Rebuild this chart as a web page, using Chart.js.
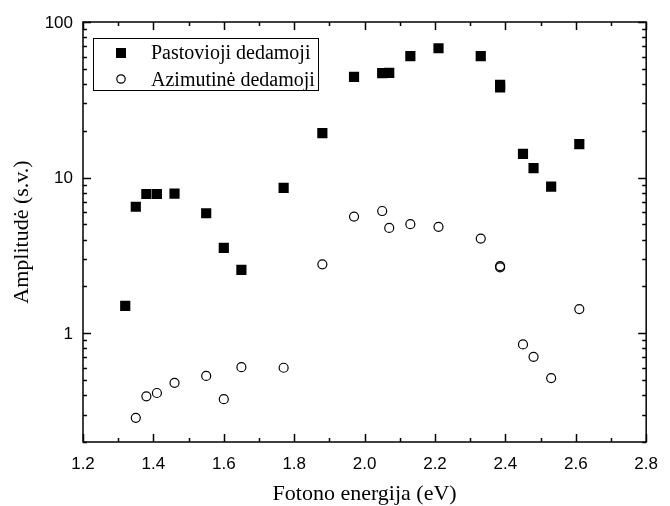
<!DOCTYPE html>
<html>
<head>
<meta charset="utf-8">
<script src="https://cdn.jsdelivr.net/npm/chart.js@4"></script>
<style>
html,body{margin:0;padding:0;background:#fff;}
#wrap{width:670px;height:506px;position:relative;}
</style>
</head>
<body>
<div id="wrap"><canvas id="c" width="670" height="506"></canvas></div>
<script>
// Data
const constEnergy = [1.32, 1.35, 1.38, 1.41, 1.46, 1.55, 1.60, 1.65, 1.77, 1.88, 1.97, 2.05, 2.07, 2.13, 2.21, 2.33, 2.385, 2.385, 2.45, 2.48, 2.53, 2.61];
const constAmp    = [1.5, 6.5, 7.85, 7.85, 7.9, 5.9, 3.54, 2.55, 8.6, 19.3, 44.4, 46.9, 47.1, 60.3, 67.8, 60.3, 39.5, 38.0, 14.2, 11.5, 8.75, 16.4];
const azimEnergy  = [1.35, 1.38, 1.41, 1.46, 1.55, 1.60, 1.65, 1.77, 1.88, 1.97, 2.05, 2.07, 2.13, 2.21, 2.33, 2.385, 2.385, 2.45, 2.48, 2.53, 2.61];
const azimAmp     = [0.286, 0.393, 0.413, 0.48, 0.532, 0.377, 0.605, 0.6, 2.77, 5.62, 6.1, 4.75, 5.02, 4.83, 4.06, 2.70, 2.65, 0.847, 0.705, 0.515, 1.43];
const seriesNames = ['Pastovioji dedamoji', 'Azimutinė dedamoji'];
const xTickValues = [1.2, 1.4, 1.6, 1.8, 2.0, 2.2, 2.4, 2.6, 2.8];
const yTickValues = [1, 10, 100];
const xTitle = 'Fotono energija (eV)';
const yTitle = 'Amplitudė (s.v.)';

const toPts = (xs, ys) => xs.map((v, i) => ({x: v, y: ys[i]}));
const SANS = '"Liberation Sans", Arial, sans-serif';
const SERIF = '"Liberation Serif", "Times New Roman", serif';

const frame = {
  id: 'frame',
  afterDraw(chart) {
    const {ctx, chartArea: {left, right, top, bottom}, scales: {x, y}} = chart;
    ctx.save();
    ctx.strokeStyle = '#000';
    ctx.lineWidth = 1.5;
    ctx.strokeRect(left, top, right - left, bottom - top);
    ctx.beginPath();
    // x ticks (major every 0.2, minor every 0.1)
    for (let k = 12; k <= 28; k++) {
      const px = Math.round(x.getPixelForValue(k / 10)) + 0.5;
      const len = (k % 2 === 0) ? 8 : 4;
      ctx.moveTo(px, bottom); ctx.lineTo(px, bottom - len);
      ctx.moveTo(px, top); ctx.lineTo(px, top + len);
    }
    // y ticks on log scale
    for (let d = -1; d <= 2; d++) {
      for (let m = 1; m <= 9; m++) {
        const v = m * Math.pow(10, d);
        if (v < y.min - 1e-9 || v > y.max + 1e-9) continue;
        const py = Math.round(y.getPixelForValue(v)) + 0.5;
        const len = (m === 1) ? 8 : 4;
        ctx.moveTo(left, py); ctx.lineTo(left + len, py);
        ctx.moveTo(right, py); ctx.lineTo(right - len, py);
      }
    }
    ctx.stroke();
    // y tick labels
    ctx.fillStyle = '#000';
    ctx.font = '17px ' + SANS;
    ctx.textAlign = 'right';
    ctx.textBaseline = 'middle';
    yTickValues.forEach(v => {
      ctx.fillText(String(v), left - 10, y.getPixelForValue(v) + 1);
    });
    // legend
    const lx = 93, ly = 38, lw = 225, lh = 52;
    ctx.lineWidth = 1;
    ctx.strokeStyle = '#000';
    ctx.strokeRect(lx + 0.5, ly + 0.5, lw, lh);
    ctx.fillStyle = '#000';
    ctx.fillRect(121 - 5, 53 - 5, 10, 10);
    ctx.beginPath();
    ctx.arc(121, 79, 4.2, 0, Math.PI * 2);
    ctx.fillStyle = '#fff';
    ctx.fill();
    ctx.lineWidth = 1.2;
    ctx.stroke();
    ctx.fillStyle = '#000';
    ctx.font = '20px ' + SERIF;
    ctx.textBaseline = 'alphabetic';
    ctx.textAlign = 'left';
    ctx.fillText(seriesNames[0], 151, 59);
    ctx.fillText(seriesNames[1], 151, 86);
    ctx.restore();
  }
};

new Chart(document.getElementById('c'), {
  type: 'scatter',
  data: {
    datasets: [
      {
        label: seriesNames[0],
        data: toPts(constEnergy, constAmp),
        pointStyle: 'rect',
        pointRadius: 7.2,
        pointHoverRadius: 7.2,
        backgroundColor: '#000',
        borderColor: '#000',
        borderWidth: 0
      },
      {
        label: seriesNames[1],
        data: toPts(azimEnergy, azimAmp),
        pointStyle: 'circle',
        pointRadius: 4.5,
        pointHoverRadius: 4.5,
        backgroundColor: 'rgba(255,255,255,0)',
        borderColor: '#000',
        borderWidth: 1.2
      }
    ]
  },
  options: {
    responsive: false,
    animation: false,
    events: [],
    layout: {padding: {left: 0, right: 14, top: 22, bottom: 0}},
    plugins: {legend: {display: false}, tooltip: {enabled: false}},
    scales: {
      x: {
        type: 'linear',
        min: 1.2, max: 2.8,
        afterBuildTicks: s => { s.ticks = xTickValues.map(v => ({value: v})); },
        afterFit: s => { s.height = 64; },
        grid: {display: false, drawTicks: false},
        border: {display: false},
        ticks: {
          color: '#000',
          padding: 12,
          maxRotation: 0,
          font: {family: SANS, size: 17},
          callback: v => Number(v).toFixed(1)
        },
        title: {
          display: true, text: xTitle, color: '#000',
          font: {family: SERIF, size: 22, lineHeight: 1},
          padding: {top: 0, bottom: 1}
        }
      },
      y: {
        type: 'logarithmic',
        min: 0.2, max: 100,
        afterBuildTicks: s => { s.ticks = yTickValues.map(v => ({value: v})); },
        afterFit: s => { s.width = 83; },
        grid: {display: false, drawTicks: false},
        border: {display: false},
        ticks: {display: false},
        title: {
          display: true, text: yTitle, color: '#000',
          font: {family: SERIF, size: 22, lineHeight: 1},
          padding: {top: 11, bottom: 0}
        }
      }
    }
  },
  plugins: [frame]
});
</script>
</body>
</html>
